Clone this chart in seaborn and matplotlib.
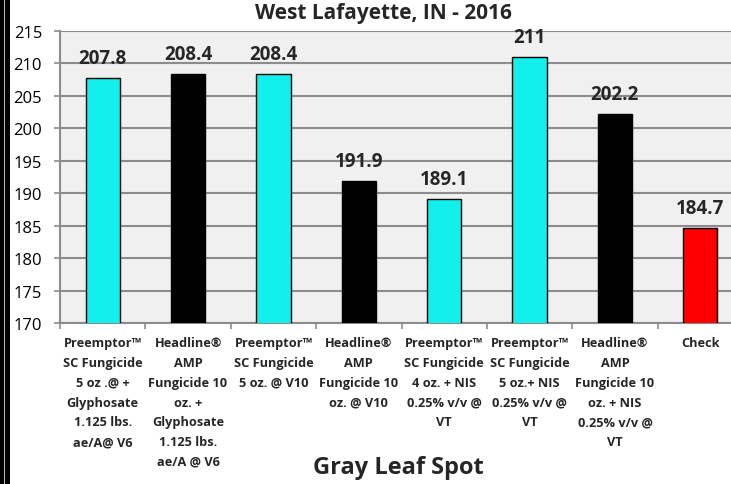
import matplotlib
matplotlib.use("Agg")
import matplotlib.pyplot as plt
import seaborn as sns
import pandas as pd
from matplotlib.patches import Rectangle
from matplotlib.ticker import MultipleLocator, FixedLocator

categories = [
    "Preemptor™\nSC Fungicide\n5 oz .@ +\nGlyphosate\n1.125 lbs.\nae/A@ V6",
    "Headline®\nAMP\nFungicide 10\noz. +\nGlyphosate\n1.125 lbs.\nae/A @ V6",
    "Preemptor™\nSC Fungicide\n5 oz. @ V10",
    "Headline®\nAMP\nFungicide 10\noz. @ V10",
    "Preemptor™\nSC Fungicide\n4 oz. + NIS\n0.25% v/v @\nVT",
    "Preemptor™\nSC Fungicide\n5 oz.+ NIS\n0.25% v/v @\nVT",
    "Headline®\nAMP\nFungicide 10\noz. + NIS\n0.25% v/v @\nVT",
    "Check",
]
values = [207.8, 208.4, 208.4, 191.9, 189.1, 211, 202.2, 184.7]
value_labels = ["207.8", "208.4", "208.4", "191.9", "189.1", "211", "202.2", "184.7"]
bar_colors = ["#13F0EC", "#000000", "#13F0EC", "#000000", "#13F0EC", "#13F0EC", "#000000", "#FF0000"]
title = "West Lafayette, IN - 2016"
xlabel = "Gray Leaf Spot"

sns.set_style("white")
plt.rcParams["font.family"] = ["Open Sans", "DejaVu Sans"]

fig = plt.figure(figsize=(7.31, 4.85), dpi=100)
W, H = 731, 485
ax = fig.add_axes([60 / W, 1 - 324 / H, 683 / W, 292 / H])
ax.set_facecolor("#F0F0F0")

df = pd.DataFrame({"cat": categories, "val": values})
sns.barplot(data=df, x="cat", y="val", hue="cat", palette=bar_colors, saturation=1,
            legend=False, width=0.4, edgecolor="black", linewidth=1.0,
            ax=ax, zorder=3)

ax.set_ylim(170, 215)
ax.set_xlim(-0.5, len(categories) - 0.5)
ax.yaxis.set_major_locator(MultipleLocator(5))
ax.grid(axis="y", color="#8C8C8C", linewidth=1.5, zorder=0)
ax.set_axisbelow(True)

for s in ["top", "right"]:
    ax.spines[s].set_visible(False)
for s in ["left", "bottom"]:
    ax.spines[s].set_color("#8C8C8C")
    ax.spines[s].set_linewidth(1.5)

ax.tick_params(axis="y", which="major", length=4.3, width=1.2, color="#8C8C8C",
               pad=8.6, labelsize=12, labelcolor="black", left=True)
ax.set_xticks(range(len(categories)))
ax.set_xticklabels(categories, fontsize=9.2, fontweight="bold", linespacing=1.68, va="top")
ax.tick_params(axis="x", which="major", length=0, pad=9.5)
ax.xaxis.set_minor_locator(FixedLocator([i - 0.5 for i in range(len(categories) + 1)]))
ax.tick_params(axis="x", which="minor", length=4, width=1.2, color="#8C8C8C", bottom=True)
ax.set_xlabel("")
ax.set_ylabel("")

for i, (v, lab) in enumerate(zip(values, value_labels)):
    ax.annotate(lab, xy=(i, v), xytext=(0, 10.5), textcoords="offset points",
                ha="center", va="baseline", fontsize=13.5, fontweight="bold", zorder=5)

fig.text(383 / W, 1 - 14 / H, title, ha="center", va="center",
         fontsize=15, fontweight="bold")
fig.text(398 / W, 1 - 468 / H, xlabel, ha="center", va="center",
         fontsize=17, fontweight="bold")

fig.patches.append(Rectangle((0, 0), 10 / W, 1, transform=fig.transFigure,
                             facecolor="black", edgecolor="none", zorder=10))
fig.patches.append(Rectangle((4 / W, 0), 1 / W, 1, transform=fig.transFigure,
                             facecolor="#BBBBBB", edgecolor="none", zorder=11))

fig.savefig("out.png", dpi=100)
